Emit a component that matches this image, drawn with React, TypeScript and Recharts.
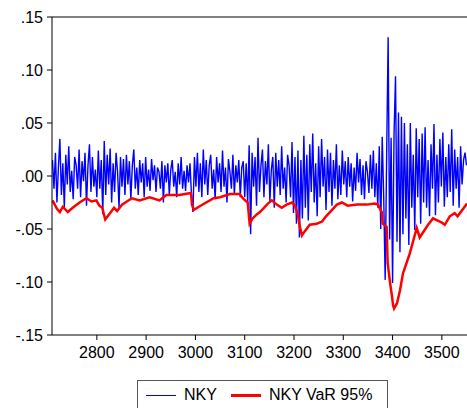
import { LineChart, Line, XAxis, YAxis, ReferenceLine, Legend } from 'recharts';

// NKY daily returns, sampled every 3 observations starting at 2710
const startDay = 2710;
const stepDays = 3;
const nkyValues = [
  .015, -.012, .022, -.025, .008, .035, -.018, .012, -.030, .020,
  -.008, .028, -.015, .005, -.022, .018, .010, -.012, .025, -.020,
  .014, -.005, .022, -.028, .010, .030, -.015, .018, -.010, .006,
  -.020, .024, -.012, .015, -.036, .033, -.018, .020, -.008, .026,
  -.025, .012, -.015, .022, .004, -.030, .018, -.010, .016, -.018,
  .020, -.008, .014, -.022, .010, .025, -.012, .008, -.018, .015,
  -.006, .012, -.020, .018, -.010, .006, -.014, .016, -.004, .010,
  -.015, .008, .004, -.012, .014, -.025, .010, -.006, .012, -.018,
  .006, .015, -.010, .004, -.020, .012, -.008, .018, -.012, .005,
  -.014, .010, -.006, .012, -.018, -.034, .018, -.010, .022, -.015,
  .012, -.020, .025, -.008, .015, -.018, .010, .020, -.012, .006,
  -.022, .018, -.006, .012, -.015, .024, -.010, .008, -.025, .016,
  .004, -.012, .020, -.018, .010, -.006, .015, -.020, .008, .014,
  -.020, .012, -.025, .029, -.055, .022, -.010, .018, -.028, .036,
  -.015, .010, .025, -.020, .014, -.008, .030, -.024, .006, .018,
  -.030, .022, -.010, .015, -.018, .028, -.012, .008, -.025, .020,
  .010, -.020, .032, -.035, .018, -.045, .024, -.058, .015, -.040,
  .038, -.030, .020, -.042, .030, -.015, .040, -.025, .012, -.038,
  .028, -.020, .035, -.010, .018, -.032, .025, -.015, .022, -.028,
  .015, -.012, .030, -.022, .010, -.018, .024, -.008, .014, -.020,
  .018, -.010, .012, -.024, .008, -.014, .022, -.006, .016, -.018,
  .010, -.022, .014, .004, -.016, .020, -.012, .024, -.020, .012,
  -.030, .028, -.050, .037, -.020, -.098, .020, .131, -.060, .036,
  -.101, .040, .094, -.062, .060, -.072, .056, -.055, .050, -.040,
  .030, -.065, .050, -.030, .020, -.051, .045, -.020, .035, -.045,
  .040, -.025, .046, -.030, .015, -.038, .030, -.012, .049, -.037,
  .020, -.025, .035, -.010, .041, -.029, .018, -.020, .030, -.015,
  .044, -.028, .025, -.012, .018, -.030, .028, -.008, .015, .022,
  .010,
];

// NKY VaR 95% (turning points)
const varDays = [
  2710, 2719, 2725, 2731, 2741, 2751, 2765, 2779, 2789, 2799,
  2805, 2811, 2817, 2825, 2835, 2841, 2851, 2871, 2887, 2907,
  2927, 2941, 2967, 2991, 2993, 2997, 3007, 3037, 3050, 3070,
  3090, 3096, 3106, 3110, 3116, 3125, 3131, 3147, 3155, 3165,
  3175, 3185, 3196, 3202, 3208, 3212, 3216, 3222, 3232, 3246,
  3257, 3265, 3273, 3287, 3297, 3309, 3328, 3348, 3364, 3370,
  3378, 3380, 3388, 3390, 3395, 3399, 3401, 3403, 3409, 3415,
  3421, 3435, 3449, 3455, 3472, 3482, 3500, 3506, 3516, 3526,
  3532, 3551,
];
const varValues = [
  -.023, -.031, -.034, -.029, -.034, -.030, -.025, -.021, -.024, -.023,
  -.028, -.030, -.041, -.036, -.030, -.033, -.027, -.021, -.023, -.020,
  -.023, -.018, -.018, -.016, -.027, -.032, -.029, -.021, -.020, -.017,
  -.017, -.021, -.025, -.045, -.040, -.036, -.034, -.026, -.023, -.027,
  -.030, -.027, -.025, -.028, -.037, -.048, -.056, -.052, -.046, -.045,
  -.043, -.038, -.034, -.027, -.025, -.028, -.027, -.027, -.026, -.027,
  -.034, -.045, -.048, -.082, -.101, -.114, -.122, -.125, -.120, -.108,
  -.092, -.073, -.049, -.058, -.046, -.040, -.044, -.046, -.038, -.035,
  -.038, -.026,
];

const yTicks = [-0.15, -0.1, -0.05, 0, 0.05, 0.1, 0.15];
const xTicks = [2800, 2900, 3000, 3100, 3200, 3300, 3400, 3500];

const nkyData = nkyValues.map((v, i) => ({ day: startDay + i * stepDays, nky: v }));
const varData = varDays.map((d, i) => ({ day: d, var95: varValues[i] }));

const font = '"Liberation Sans", Arial, sans-serif';

const fmtY = (v: number) => (v < 0 ? '-' : '') + Math.abs(v).toFixed(2).slice(1);

function LegendBox() {
  return (
    <div
      style={{
        border: '1px solid #555',
        height: 30,
        width: 251,
        boxSizing: 'border-box',
        display: 'flex',
        alignItems: 'center',
        fontFamily: font,
        fontSize: 16,
        color: '#000',
      }}
    >
      <span style={{ display: 'inline-block', width: 30, borderTop: '1px solid #0000ff', marginLeft: 8 }} />
      <span style={{ marginLeft: 8 }}>NKY</span>
      <span style={{ display: 'inline-block', width: 30, borderTop: '3px solid #ff0000', marginLeft: 14 }} />
      <span style={{ marginLeft: 8 }}>NKY VaR 95%</span>
    </div>
  );
}

export default function App() {
  return (
    <div style={{ position: 'absolute', left: 0, top: 0, width: 467, height: 408, background: '#fff', overflow: 'hidden' }}>
      <LineChart width={467} height={370} margin={{ top: 17, right: 0, left: 0, bottom: 5 }}>
        <XAxis
          dataKey="day"
          type="number"
          domain={[2709, 3551]}
          ticks={xTicks}
          allowDataOverflow
          tickSize={5}
          tickMargin={7}
          height={30}
          stroke="#000"
          tick={{ fill: '#000', fontSize: 16, fontFamily: font }}
        />
        <YAxis
          type="number"
          domain={[-0.15, 0.15]}
          ticks={yTicks}
          tickFormatter={fmtY}
          width={52}
          tickSize={5}
          tickMargin={4}
          stroke="#000"
          tick={{ fill: '#000', fontSize: 16, fontFamily: font }}
        />
        <ReferenceLine y={0.15} stroke="#000" />
        <Line
          data={nkyData}
          dataKey="nky"
          type="linear"
          stroke="#0000ff"
          strokeWidth={1.4}
          dot={false}
          isAnimationActive={false}
        />
        <Line
          data={varData}
          dataKey="var95"
          type="linear"
          stroke="#ff0000"
          strokeWidth={2.5}
          dot={false}
          isAnimationActive={false}
        />
        <Legend
          layout="vertical"
          align="center"
          verticalAlign="middle"
          wrapperStyle={{ left: 137, top: 380, width: 251 }}
          content={() => <LegendBox />}
        />
      </LineChart>
    </div>
  );
}
